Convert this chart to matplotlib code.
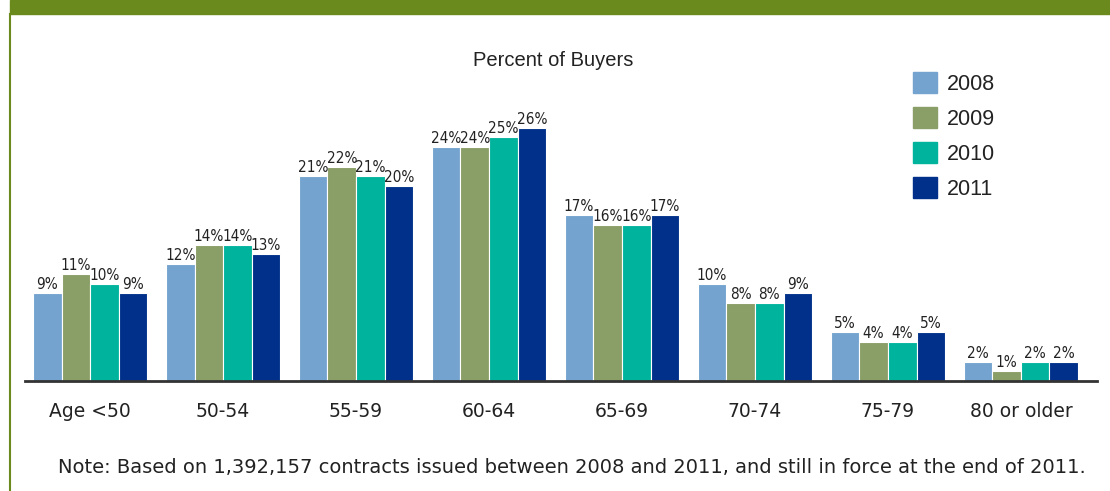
import numpy as np
import matplotlib
matplotlib.use("Agg")
import matplotlib.pyplot as plt
from matplotlib.patches import Rectangle
from matplotlib.lines import Line2D

plt.rcParams['font.family'] = ['DejaVu Sans']

# datos
ages = ['Age <50', '50-54', '55-59', '60-64', '65-69', '70-74', '75-79', '80 or older']
years = ['2008', '2009', '2010', '2011']
v2008 = [9, 12, 21, 24, 17, 10, 5, 2]
v2009 = [11, 14, 22, 24, 16, 8, 4, 1]
v2010 = [10, 14, 21, 25, 16, 8, 4, 2]
v2011 = [9, 13, 20, 26, 17, 9, 5, 2]
colors = ['#74a3cf', '#8a9e67', '#00b39d', '#00308a']

fig = plt.figure(figsize=(11.1, 4.91), dpi=100)
ax = fig.add_axes([0.0225, 0.224, 0.9655, 0.556])

x = np.arange(len(ages))
w = 0.215
series = [v2008, v2009, v2010, v2011]
for k, (vals, c) in enumerate(zip(series, colors)):
    pos = x + (k - 1.5) * w
    ax.bar(pos, vals, width=w, color=c, edgecolor='white', linewidth=0.8, label=years[k])
    for p, v in zip(pos, vals):
        ax.text(p, v + 0.1, f'{v}%', ha='center', va='bottom', fontsize=11, color='#222222',
                fontstretch='condensed')

ax.set_xlim(-0.49, 7.57)
ax.set_ylim(0, 28)
ax.set_xticks(x)
ax.set_xticklabels(ages, fontsize=13.5, color='#222222')
ax.tick_params(axis='x', length=0, pad=15)
ax.set_yticks([])
for s in ['top', 'right', 'left']:
    ax.spines[s].set_visible(False)
ax.spines['bottom'].set_color('#333333')
ax.spines['bottom'].set_linewidth(2)

fig.text(0.498, 0.877, 'Percent of Buyers', ha='center', va='center', fontsize=14.5, color='#222222',
         family='Liberation Sans')

# leyenda
handles = [Rectangle((0, 0), 1, 1, color=c) for c in colors]
fig.legend(handles, years, loc='upper left', bbox_to_anchor=(0.8055, 0.892), frameon=False,
           prop={'family': 'Liberation Sans', 'size': 15.5}, handlelength=1.08, handleheight=1.08,
           handletextpad=0.45, labelspacing=0.58, labelcolor='#222222')

fig.text(0.515, 0.048, 'Note: Based on 1,392,157 contracts issued between 2008 and 2011, and still in force at the end of 2011.',
         ha='center', va='center', fontsize=14, color='#222222')

# banda verde y borde izquierdo
fig.patches.append(Rectangle((10 / 1110, 1 - 14 / 491), 1, 14 / 491, transform=fig.transFigure,
                             color='#6b8a1e', zorder=0))
fig.lines.append(Line2D([10 / 1110, 10 / 1110], [0, 1 - 14 / 491], transform=fig.transFigure,
                        color='#6b8a1e', linewidth=1.5))

fig.savefig('out.png', dpi=100)
